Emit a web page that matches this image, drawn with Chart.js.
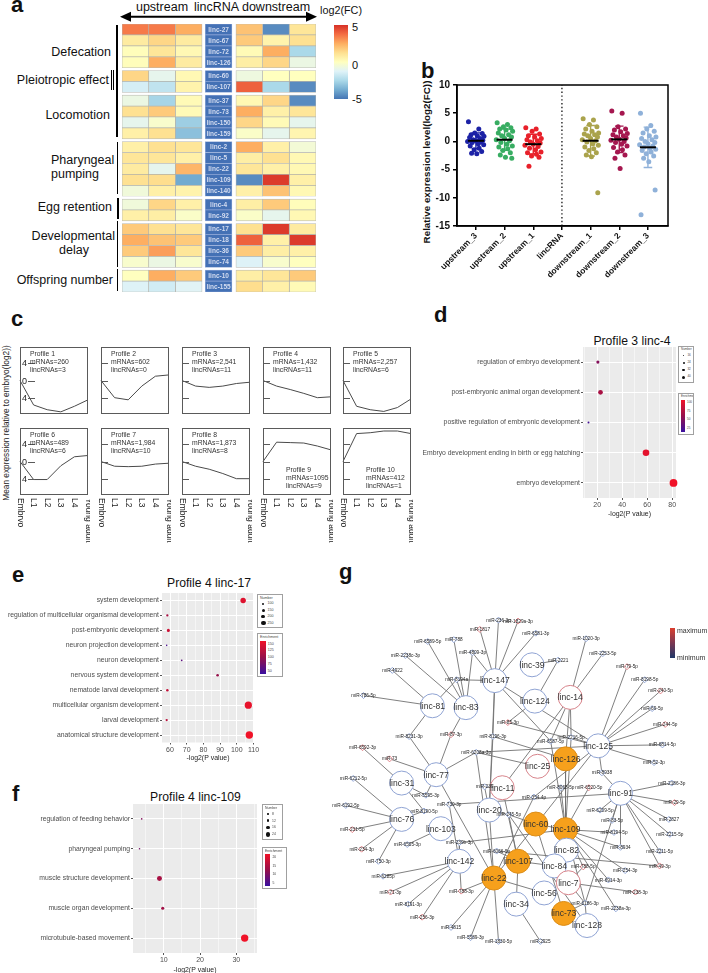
<!DOCTYPE html>
<html lang="en"><head><meta charset="utf-8"><title>lincRNA figure</title>
<script src="https://cdn.jsdelivr.net/npm/chart.js@4.4.1/dist/chart.umd.min.js"></script>
<style>
html,body{margin:0;padding:0;background:#fff;}
#root{position:relative;width:708px;height:973px;overflow:hidden;background:#fff;font-family:"Liberation Sans",Arial,Helvetica,sans-serif;color:#111;}
#root canvas{position:absolute;}
.abs{position:absolute;white-space:nowrap;}
.lg{position:absolute;box-sizing:border-box;border:1px solid #a0a0a0;background:#fff;color:#444;overflow:hidden;white-space:nowrap;}
</style></head>
<body><div id="root"></div>
<script>
// ================= DATA =================
// ---- panel a : heatmap ----
const groupNames = ['Defecation','Pleiotropic effect','Locomotion','Pharyngeal pumping','Egg retention','Developmental delay','Offspring number'];
const groupSizes = [4,2,4,5,2,4,2];
const lincIds = ['linc-27','linc-67','linc-72','linc-126','linc-60','linc-107','linc-37','linc-73','linc-150','linc-159','linc-2','linc-5','linc-22','linc-109','linc-140','linc-4','linc-92','linc-17','linc-18','linc-36','linc-74','linc-10','linc-155'];
const up3   = [3.5,0.8,0.1,0.1, 1.5,-1.5, -0.8,1.2,-1.0,0.6, 0.6,1.0,0.8,1.2,-0.6, -0.6,0.6, 1.8,2.5,1.8,-0.3, 0.0,-1.3];
const up2   = [3.5,1.5,1.0,2.5, -1.0,-2.0, -2.6,1.8,-0.3,1.2, 1.2,1.0,-1.0,1.3,0.6, 1.5,0.7, 1.2,2.0,2.8,-0.8, 2.5,-1.6];
const up1   = [2.5,0.8,0.3,0.8, 0.3,0.5, 0.2,0.2,-2.8,-3.2, 1.0,0.6,2.3,-3.8,0.5, 0.6,-0.2, 1.0,1.8,1.0,-0.3, 1.8,-1.2];
const down1 = [2.0,1.8,0.2,0.7, -0.7,4.0, 0.3,2.5,1.5,-0.2, 2.5,0.7,1.0,-4.5,0.6, 0.7,-0.2, 1.2,4.0,1.8,-1.3, 0.7,1.3];
const down2 = [-4.5,0.5,2.5,1.5, 0.0,-2.5, 1.5,0.6,0.2,-1.0, 0.6,1.2,0.6,4.8,2.0, 1.8,-1.0, 4.8,0.6,0.7,-0.3, 1.0,0.6];
const down3 = [1.0,1.2,-2.5,-0.8, 0.0,-4.5, -4.5,1.0,-1.0,0.4, -0.5,0.3,0.3,0.6,0.3, 0.1,0.3, 0.8,4.8,0.6,0.0, 1.8,0.2];
const fcTicks = [5,0,-5];

// ---- panel b : strip plot ----
const bCats = ['upstream_3','upstream_2','upstream_1','lincRNA','downstream_1','downstream_2','downstream_3'];
const bUp3   = [3.5,2.2,1.5,1.4,1.2,1.0,0.9,0.7,0.5,0.3,0.2,0.1,0.0,-0.1,-0.2,-0.4,-0.6,-0.8,-1.2,-1.5,-1.8,-2.1,-2.2];
const bUp2   = [3.3,3.0,2.6,2.4,2.2,2.0,1.8,1.5,1.2,1.0,0.8,0.5,0.3,0.1,-0.2,-0.5,-0.8,-1.0,-1.3,-1.6,-2.0,-2.4,-2.8,-3.0];
const bUp1   = [2.4,2.2,1.8,1.3,1.0,0.8,0.5,0.3,0.1,-0.1,-0.3,-0.5,-0.7,-0.9,-1.2,-1.5,-1.9,-2.0,-2.3,-2.6,-2.8,-4.4];
const bDown1 = [4.0,3.8,3.0,2.6,2.2,1.8,1.5,1.3,1.2,1.0,0.8,0.5,0.3,0.1,-0.1,-0.4,-0.7,-1.0,-1.3,-1.6,-2.0,-2.4,-2.7,-9.1];
const bDown2 = [5.4,5.0,2.6,2.2,2.0,1.7,1.4,1.2,1.0,0.8,0.6,0.4,0.2,0.0,-0.2,-0.5,-0.8,-1.1,-1.5,-1.9,-2.4,-3.0,-4.8];
const bDown3 = [5.0,2.8,2.2,1.8,1.5,1.0,0.8,0.5,0.3,0.0,-0.2,-0.4,-0.6,-0.8,-1.0,-1.2,-1.4,-1.6,-1.9,-2.2,-2.6,-3.0,-3.6,-8.6,-13.0];

// ---- panel c : expression profiles ----
const stages = ['Embryo','L1','L2','L3','L4','Young adult'];
const profTicks = [4,0,-4];
const profMRNA = ['260','602','2,541','1,432','2,257','489','1,984','1,873','1095','412'];
const profLinc = [3,0,11,11,6,6,10,8,9,1];
const prof1  = [0,-5.7,-6.8,-7.3,-6.0,-4.5];
const prof2  = [0,-4.0,-4.5,-1.3,1.0,1.3];
const prof3  = [0,-1.3,-1.6,-1.3,-0.7,-0.4];
const prof4  = [0,-1.3,-2.1,-3.0,-4.0,-3.8];
const prof5  = [0,-6.0,-6.8,-7.2,-6.3,-4.3];
const prof6  = [0,-4.2,-4.2,-1.0,1.1,1.4];
const prof7  = [0,-1.1,-1.2,-1.1,-0.6,-0.4];
const prof8  = [0,-1.1,-1.8,-2.8,-4.0,-4.0];
const prof9  = [0,4.5,4.4,4.3,3.6,2.7];
const prof10 = [0,6.5,6.7,7.1,7.1,6.5];

// ---- panel d ----
const dTerms  = ['regulation of embryo development','post-embryonic animal organ development','positive regulation of embryonic development','Embryo development ending in birth or egg hatching','embryo development'];
const dLogP   = [20.5,22.6,13,59,81];
const dCount  = [18,26,12,36,42];
const dEnrich = [55,70,30,95,100];
// ---- panel e ----
const eTerms  = ['system development','regulation of multicellular organismal development','post-embryonic development','neuron projection development','neuron development','nervous system development','nematode larval development','multicellular organism development','larval development','anatomical structure development'];
const eLogP   = [103.8,58.4,59,58,67,88.5,58.4,106.9,58,107.5];
const eCount  = [200,110,130,90,95,120,115,250,110,255];
const eEnrich = [140,110,130,60,70,100,125,145,120,150];
// ---- panel f ----
const fTerms  = ['regulation of feeding behavior','pharyngeal pumping','muscle structure development','muscle organ development','microtubule-based movement'];
const fLogP   = [3.9,3.3,8.8,9.7,32.3];
const fCount  = [5,5,16,10,24];
const fEnrich = [10,8,15,14,25];

// ---- panel g : network (layout coordinates) ----
const lincNames = ['linc-147','linc-39','linc-81','linc-83','linc-124','linc-14','linc-125','linc-126','linc-25','linc-77','linc-31','linc-11','linc-91','linc-20','linc-76','linc-103','linc-60','linc-109','linc-82','linc-142','linc-107','linc-84','linc-22','linc-7','linc-56','linc-34','linc-73','linc-128'];
const lincX = [493,533,426,462,536,574,604,569,539,430,393,501,628,487,393,435,537,569,570,455,518,557,492,572,546,516,567,592];
const lincY = [673,656,700,702,695,691,743,757,765,774,783,788,794,812,822,832,827,833,855,867,867,872,885,890,901,913,923,936];
const lincKind = [0,0,0,0,0,1,0,2,1,0, 0,1,0,0,0,0,2,2,0,0, 2,0,2,1,0,0,2,0];
const mirNames = ['miR-236-3p','miR-1829a-3p','miR-1817','miR-6581-3p','miR-6589-5p','miR-788','miR-1020-3p','miR-4809-3p','miR-2253-5p','miR-2238c-3p','miR-2221','miR-79-5p','miR-4922','miR-8194a','miR-8198-5p','miR-786-5p','miR-240-5p','miR-69-5p','miR-244-5p','miR-6814-5p','miR-52-3p','miR-85-3p','miR-8231-3p','miR-87-3p','miR-8196-3p','miR-6587-5p','miR-2216-5p','miR-6592-3p','miR-73','miR-6208a-3p','miR-8938','miR-6212-5p','miR-239','miR-8068-5p','miR-6520-5p','miR-2186-3p','miR-5595-3p','miR-354-4p','miR-29-5p','miR-730-3p','miR-6192-5p','miR-8190-5p','miR-6209-5p','miR-2827','miR-245-5p','miR-83-5p','miR-231-5p','miR-8194-5p','miR-2215-5p','miR-234-3p','miR-6505-3p','miR-239b-3p','miR-8934','miR-6066-5p','miR-2211-5p','miR-750-3p','miR-788-5p','miR-254-3p','miR-49-3p','miR-6285p','miR-6914-3p','miR-71-3p','miR-788-3p','miR-238-3p','miR-8191-3p','miR-6186-3p','miR-2238a-3p','miR-256-3p','miR-4815','miR-5589-3p','miR-1830-5p','miR-2925'];
const mirX = [497,518,477,537,421,449,591,469,609,397, 561,635,383,452,654,352,671,662,676,673, 664,507,401,446,491,553,575,351,380,473, 608,341,482,564,594,683,419,535,686,444, 333,417,606,680,508,619,340,621,681,350, 399,455,628,495,670,368,588,633,670,373, 615,381,457,644,400,590,623,415,446,467, 497,542];
const mirY = [608,609,618,622,631,629,628,643,644,646, 651,658,662,672,672,689,684,703,720,742, 761,718,733,731,733,738,734,745,757,750, 772,778,787,788,788,783,796,798,804,806, 807,813,812,822,817,823,833,836,838,854, 849,847,852,856,856,867,873,877,872,883, 887,900,899,900,913,912,918,927,938,949, 953,953];
const mirKind = [0,1,1,0,0,0,0,0,0,0, 0,1,0,0,0,0,1,0,1,0, 0,1,0,1,0,0,0,1,1,0, 0,0,0,0,1,0,0,0,1,0, 0,0,0,0,0,0,1,0,0,1, 0,0,0,0,0,0,1,0,1,0, 0,1,1,1,0,0,0,1,0,0, 0,0];
const netEdges = [
 ['miR-6589-5p','linc-83'],['miR-788','linc-83'],['miR-4809-3p','linc-83'],['miR-4809-3p','linc-147'],['miR-8194a','linc-147'],['miR-8194a','linc-81'],['miR-8194a','linc-83'],['miR-2238c-3p','linc-83'],['miR-4922','linc-81'],
 ['miR-1817','linc-147'],['miR-236-3p','linc-147'],['miR-1829a-3p','linc-147'],['miR-6581-3p','linc-147'],['miR-2221','linc-39'],['miR-2221','linc-124'],['miR-1020-3p','linc-14'],['miR-2253-5p','linc-14'],
 ['miR-79-5p','linc-125'],['miR-8198-5p','linc-125'],['miR-240-5p','linc-125'],['miR-69-5p','linc-125'],['miR-244-5p','linc-125'],['miR-6814-5p','linc-125'],['miR-52-3p','linc-125'],['miR-786-5p','linc-81'],
 ['linc-81','miR-8231-3p'],['miR-8231-3p','linc-77'],['linc-83','miR-87-3p'],['miR-87-3p','linc-77'],['miR-8196-3p','linc-147'],['miR-8196-3p','linc-126'],['miR-85-3p','linc-124'],['miR-85-3p','linc-125'],
 ['linc-147','linc-125'],['linc-147','miR-6587-5p'],['miR-6587-5p','linc-14'],['miR-6587-5p','linc-109'],['miR-2216-5p','linc-14'],['miR-2216-5p','linc-109'],['miR-2216-5p','linc-125'],['linc-14','linc-126'],['linc-14','linc-11'],
 ['miR-6592-3p','linc-31'],['miR-73','linc-77'],['miR-6208a-3p','linc-77'],['miR-6208a-3p','linc-125'],['miR-6208a-3p','linc-25'],['miR-6208a-3p','linc-22'],['miR-6212-5p','linc-76'],['miR-239','linc-11'],
 ['miR-8938','linc-125'],['miR-8938','linc-91'],['miR-8068-5p','linc-109'],['miR-6520-5p','linc-109'],['miR-2186-3p','linc-91'],['miR-5595-3p','linc-31'],['miR-5595-3p','linc-77'],['linc-125','miR-354-4p'],['miR-354-4p','linc-22'],
 ['miR-29-5p','linc-91'],['miR-730-3p','linc-91'],['miR-6192-5p','linc-76'],['miR-8190-5p','linc-31'],['miR-8190-5p','linc-76'],['miR-6209-5p','linc-91'],['miR-2827','linc-91'],
 ['miR-245-5p','linc-60'],['miR-245-5p','linc-20'],['miR-245-5p','linc-107'],['miR-245-5p','linc-128'],['miR-83-5p','linc-91'],['miR-231-5p','linc-76'],['miR-8194-5p','linc-109'],['miR-2215-5p','linc-91'],['miR-234-3p','linc-76'],
 ['miR-6505-3p','linc-103'],['miR-239b-3p','linc-109'],['miR-239b-3p','linc-142'],['miR-8934','linc-91'],['miR-8934','linc-109'],['miR-6066-5p','linc-107'],['miR-6066-5p','miR-49-3p'],['miR-2211-5p','linc-91'],['miR-750-3p','linc-76'],
 ['miR-788-5p','linc-109'],['miR-788-5p','linc-7'],['miR-254-3p','linc-109'],['miR-49-3p','linc-91'],['miR-6285p','linc-142'],['miR-6914-3p','linc-109'],['miR-71-3p','linc-142'],['miR-788-3p','linc-142'],['miR-788-3p','linc-22'],
 ['miR-238-3p','linc-7'],['miR-8191-3p','linc-142'],['miR-6186-3p','linc-109'],['miR-6186-3p','linc-7'],['miR-6186-3p','linc-91'],['miR-6186-3p','linc-73'],['miR-6186-3p','linc-128'],['miR-2238a-3p','linc-109'],['miR-256-3p','linc-142'],
 ['miR-4815','linc-22'],['miR-5589-3p','linc-22'],['miR-1830-5p','linc-22'],['miR-2925','linc-34'],['linc-22','linc-56'],['linc-77','linc-22'],['linc-107','linc-34'],['linc-107','linc-84'],['linc-60','linc-109'],['linc-126','linc-109'],
 ['linc-20','linc-147'],['linc-20','linc-22'],['linc-11','linc-107'],['linc-142','miR-730-3p'],['linc-125','linc-22'],['linc-60','linc-73'],['miR-8196-3p','linc-20'],['miR-239','linc-20']
];

// ================= SETUP =================
const FONT = '"Liberation Sans", Arial, Helvetica, sans-serif';
Chart.defaults.font.family = FONT;
Chart.defaults.color = '#222';
Chart.defaults.animation = false;
Chart.defaults.responsive = false;
Chart.defaults.maintainAspectRatio = false;
Chart.defaults.devicePixelRatio = 1;
Chart.defaults.events = [];
Chart.defaults.plugins.legend.display = false;
Chart.defaults.plugins.tooltip.enabled = false;

const root = document.getElementById('root');
function mkCanvas(l,t,w,h){
  const c=document.createElement('canvas'); c.width=w; c.height=h;
  c.style.left=l+'px'; c.style.top=t+'px'; c.style.width=w+'px'; c.style.height=h+'px';
  root.appendChild(c); return c;
}
function txt(s,x,base,fs,align,extra){
  const d=document.createElement('div'); d.className='abs'; d.textContent=s;
  d.style.left=x+'px'; d.style.top=(base-0.8465*fs)+'px'; d.style.fontSize=fs+'px'; d.style.lineHeight=fs+'px';
  if(align==='center') d.style.transform='translateX(-50%)';
  else if(align==='right') d.style.transform='translateX(-100%)';
  if(extra) Object.assign(d.style,extra);
  root.appendChild(d); return d;
}
function txtRot(s,cx,cy,fs,extra){
  const d=document.createElement('div'); d.className='abs'; d.textContent=s;
  d.style.left=cx+'px'; d.style.top=cy+'px'; d.style.fontSize=fs+'px'; d.style.lineHeight=fs+'px';
  d.style.transform='translate(-50%,-50%) rotate(-90deg)';
  if(extra) Object.assign(d.style,extra);
  root.appendChild(d); return d;
}
function rect(l,t,w,h,bg){
  const d=document.createElement('div'); d.className='abs';
  Object.assign(d.style,{left:l+'px',top:t+'px',width:w+'px',height:h+'px',background:bg});
  root.appendChild(d); return d;
}
const fcStops=[[-5,[69,117,180]],[-3.75,[116,173,209]],[-2.5,[171,217,233]],[-1.25,[224,243,248]],[0,[255,255,191]],[1.25,[254,224,144]],[2.5,[253,174,97]],[3.75,[244,109,67]],[5,[215,48,39]]];
function fcColor(v){
  v=Math.max(-5,Math.min(5,v));
  for(let i=0;i<fcStops.length-1;i++){
    const [a,ca]=fcStops[i],[b,cb]=fcStops[i+1];
    if(v<=b){const t=(v-a)/(b-a);return 'rgb('+ca.map((c,j)=>Math.round(c+(cb[j]-c)*t)).join(',')+')';}
  }
  return 'rgb(215,48,39)';
}
const enrStops=[[0,[58,16,160]],[0.5,[150,16,74]],[1,[240,18,40]]];
function enrichColor(t){
  t=Math.max(0,Math.min(1,t));
  const [a,ca]=t<=0.5?enrStops[0]:enrStops[1];
  const [b,cb]=t<=0.5?enrStops[1]:enrStops[2];
  const u=(t-a)/(b-a);
  return 'rgb('+ca.map((c,j)=>Math.round(c+(cb[j]-c)*u)).join(',')+')';
}
function mean(a){return a.reduce((s,v)=>s+v,0)/a.length;}
function stdev(a){const m=mean(a);return Math.sqrt(a.reduce((s,v)=>s+(v-m)*(v-m),0)/(a.length-1));}

// ================= PANEL A =================
txt('a',11,13,22,null,{fontWeight:'bold'});
txt('upstream',162,11.5,12.5,'center');
txt('lincRNA',216.5,11.5,12.5,'center');
txt('downstream',276,11.5,12.5,'center');
root.insertAdjacentHTML('beforeend','<svg class="abs" style="left:120px;top:11px" width="197" height="12" viewBox="0 0 197 12"><line x1="9" y1="5.7" x2="188" y2="5.7" stroke="#000" stroke-width="2"/><polygon points="0,5.7 11,0.7 11,10.7" fill="#000"/><polygon points="197,5.7 186,0.7 186,10.7" fill="#000"/></svg>');
txt('log2(FC)',320,14,10.8);
rect(334,25,14,74,'linear-gradient(to bottom,#d73027 0%,#f46d43 12.5%,#fdae61 25%,#fee090 37.5%,#ffffbf 50%,#e0f3f8 62.5%,#abd9e9 75%,#74add1 87.5%,#4575b4 100%)');
const fcTickY=[31,69,103];
fcTicks.forEach((v,i)=>txt(String(v),352,fcTickY[i],11));
// group labels
txt(groupNames[0],111,56.5,12.5,'right');
txt(groupNames[1],109,85,12.5,'right');
txt(groupNames[2],110,119.5,12.5,'right');
txt('Pharyngeal',51,164.5,12.5);
txt('pumping',51,178.5,12.5);
txt(groupNames[4],112,212,12.5,'right');
txt('Developmental',115,240.5,12.5,'right');
txt('delay',74,255,12.5,'center');
txt(groupNames[6],113,284.5,12.5,'right');
rect(116,25,1.5,112,'#000');
rect(110.8,70,1.2,20,'#000');
rect(113.3,70,1.2,20,'#000');
rect(116.5,142,1.5,52,'#000');
rect(117,198,1.5,21,'#000');
rect(116.5,221,1.5,46,'#000');
rect(116.5,269,1.5,22,'#000');

(function(){
  const c=mkCanvas(122,24,194,268);
  const rowPos=[]; let k=0;
  groupSizes.forEach((n,g)=>{for(let r=0;r<n;r++){rowPos.push(k+g*0.25+0.5);k++;}});
  const cols=[up3,up2,up1,null,down1,down2,down3];
  const colSpan=[[0,1],[1,2],[2,3],[3.12,4.12],[4.27,5.27],[5.27,6.27],[6.27,7.27]];
  const datasets=cols.map((vals,ci)=>({
    data:lincIds.map((id,i)=>({x:colSpan[ci].slice(),y:rowPos[i]})),
    backgroundColor: vals? vals.map(fcColor) : '#4471b5',
    borderColor: vals? 'rgba(168,168,160,0.8)' : 'rgba(140,165,215,0.9)',
    borderWidth:0.7, borderSkipped:false, barPercentage:1, categoryPercentage:1, grouped:false
  }));
  const lincLabels={id:'lincLabels',afterDatasetsDraw(chart){
    const ctx=chart.ctx, meta=chart.getDatasetMeta(3);
    ctx.save(); ctx.font='bold 6.5px '+FONT; ctx.fillStyle='#d3dcf0'; ctx.textAlign='center'; ctx.textBaseline='middle';
    meta.data.forEach((el,i)=>ctx.fillText(lincIds[i],(el.x+el.base)/2,el.y+0.5));
    ctx.restore();
  }};
  new Chart(c,{type:'bar',data:{datasets},options:{indexAxis:'y',layout:{padding:0},
    scales:{x:{type:'linear',min:0,max:7.27,display:false},
            y:{type:'linear',min:0,max:24.5,reverse:true,display:false,offset:false,afterBuildTicks:s=>{s.ticks=[{value:0},{value:24.5}];}}}},
    plugins:[lincLabels]});
})();

// ================= PANEL B =================
txt('b',421,79,22,null,{fontWeight:'bold'});
txtRot('Relative expression level(log2(FC))',427,162,9.8,{fontWeight:'bold',color:'#111'});
(function(){
  const c=mkCanvas(417,76,258,210);
  const series=[bUp3,bUp2,bUp1,null,bDown1,bDown2,bDown3];
  const colors=['#1c22a6','#38ad62','#e8202a',null,'#aaa34c','#a5174f','#8fb1d9'];
  const jitter=[-0.26,0.1,-0.04,0.22,-0.17,0.05,0.28,-0.22,0.14,-0.1,0.24,0.0,-0.29,0.17,-0.13,0.08,0.27,-0.2,0.11,-0.06,0.2,-0.15,0.03,0.25,-0.24];
  const ds=[];
  series.forEach((vals,ci)=>{
    if(!vals) return;
    const col=colors[ci], m=mean(vals), sd=stdev(vals);
    ds.push({type:'scatter',data:vals.map((v,i)=>({x:ci+jitter[i%jitter.length],y:v})),pointRadius:2.5,pointBackgroundColor:col,pointBorderWidth:0,order:2});
    ds.push({type:'line',data:[{x:ci,y:m-sd},{x:ci,y:m+sd},{x:ci,y:null},{x:ci-0.15,y:m+sd},{x:ci+0.15,y:m+sd},{x:ci,y:null},{x:ci-0.15,y:m-sd},{x:ci+0.15,y:m-sd}],borderColor:col,borderWidth:1.4,pointRadius:0,spanGaps:false,order:1});
    ds.push({type:'line',data:[{x:ci-0.28,y:m},{x:ci+0.28,y:m}],borderColor:'#000',borderWidth:2,pointRadius:0,order:0});
  });
  ds.push({type:'line',data:[{x:3,y:-15},{x:3,y:10}],borderColor:'#222',borderWidth:1.4,borderDash:[1.4,2.4],pointRadius:0,order:3});
  const frame={id:'frame',afterDraw(chart){const {ctx,chartArea:a}=chart;ctx.save();ctx.strokeStyle='#000';ctx.lineWidth=1.5;ctx.strokeRect(a.left,a.top,a.right-a.left,a.bottom-a.top);ctx.restore();}};
  new Chart(c,{type:'scatter',data:{datasets:ds},options:{
    layout:{padding:{top:9,right:7,left:0,bottom:0}},
    scales:{
      x:{type:'linear',min:-0.66,max:6.7,
         afterBuildTicks:s=>{s.ticks=bCats.map((n,i)=>({value:i}));},
         ticks:{callback:v=>bCats[v],autoSkip:false,minRotation:45,maxRotation:45,font:{size:8.5,weight:'bold'},color:'#111',padding:1},
         grid:{display:true,drawOnChartArea:false,drawTicks:true,tickLength:4,color:'#000',lineWidth:1.5},
         border:{display:true,color:'#000',width:1.5},
         afterFit:s=>{s.height=60;}},
      y:{min:-15,max:10,ticks:{stepSize:5,font:{size:10,weight:'bold'},color:'#111',padding:3},
         grid:{display:true,drawOnChartArea:false,drawTicks:true,tickLength:4,color:'#000',lineWidth:1.5},
         border:{display:true,color:'#000',width:1.5},
         afterFit:s=>{s.width=40;}}
    }},plugins:[frame]});
})();

// ================= PANEL C =================
txt('c',11,327,22,null,{fontWeight:'bold'});
txtRot('Mean expression relative to embryo(log2))',6,423,8.3,{color:'#222'});
const profVals=[prof1,prof2,prof3,prof4,prof5,prof6,prof7,prof8,prof9,prof10];
const profileDeco={id:'profileDeco',afterDraw(chart,args,o){
  const {ctx,chartArea:a,scales:{x,y}}=chart;
  ctx.save();
  ctx.strokeStyle='#5a5a5a'; ctx.lineWidth=1;
  ctx.strokeRect(a.left+0.5,a.top+0.5,a.right-a.left-1,a.bottom-a.top-1);
  ctx.font='9px '+FONT; ctx.fillStyle='#222'; ctx.textAlign='center'; ctx.textBaseline='middle';
  profTicks.forEach(v=>{
    const py=Math.round(y.getPixelForValue(v))+0.5;
    const x0=o.first?a.left+8:a.left;
    ctx.beginPath(); ctx.moveTo(x0,py); ctx.lineTo(x0+7,py); ctx.stroke();
    if(o.first) ctx.fillText(String(Math.abs(v)),a.left+4.5,py);
  });
  if(o.xLabels){
    ctx.font='8.5px '+FONT; ctx.textAlign='left';
    stages.forEach((s,i)=>{const px=x.getPixelForValue(i);ctx.save();ctx.translate(px,a.bottom+3);ctx.rotate(Math.PI/2);ctx.fillText(s,0,0);ctx.restore();});
  }
  ctx.font='6.8px '+FONT; ctx.fillStyle='#333'; ctx.textAlign='left';
  const lines=['Profile '+(o.idx+1),'mRNAs='+profMRNA[o.idx],'lincRNAs='+profLinc[o.idx]];
  lines.forEach((l,k)=>{
    if(o.bottomText) ctx.fillText(l,a.left+23,a.bottom-25+k*8);
    else ctx.fillText(l,a.left+10,a.top+7.5+k*8);
  });
  ctx.restore();
}};
const profColLeft=[20,101,182,263,343], profRowTop=[347,428];
profVals.forEach((vals,idx)=>{
  const col=idx%5,row=Math.floor(idx/5);
  const bx=profColLeft[col],by=profRowTop[row],bw=68,bh=67;
  const extra=row===1?52:2;
  const c=mkCanvas(bx-2,by-2,bw+4,bh+2+extra);
  new Chart(c,{type:'line',data:{datasets:[{data:vals.map((v,i)=>({x:i,y:v})),borderColor:'#4a4a4a',borderWidth:1,pointRadius:0,tension:0,clip:false}]},
    options:{layout:{padding:{left:2,top:2,right:2,bottom:extra}},
      scales:{x:{type:'linear',min:0,max:5,display:false},y:{min:-7.8,max:7.8,display:false}},
      plugins:{profileDeco:{idx,first:col===0,bottomText:idx>=8,xLabels:row===1}}},
    plugins:[profileDeco]});
});

// ================= PANELS D, E, F =================
const panelBg={id:'panelBg',beforeDraw(chart){const {ctx,chartArea:a}=chart;ctx.save();ctx.fillStyle='#ebebeb';ctx.fillRect(a.left,a.top,a.right-a.left,a.bottom-a.top);ctx.restore();}};
function isMajor(v,m){const q=v/m;return Math.abs(q-Math.round(q))<1e-6;}
function goChart(o){
  const c=mkCanvas(o.left,o.top,o.width,o.height);
  const nMin=Math.min(...o.count),nMax=Math.max(...o.count);
  const radius=n=>o.rMin+(n-nMin)/(nMax-nMin)*(o.rMax-o.rMin);
  new Chart(c,{type:'scatter',
    data:{datasets:[{data:o.terms.map((t,i)=>({x:o.logp[i],y:t})),pointRadius:o.count.map(radius),
      pointBackgroundColor:o.enrich.map(e=>enrichColor((e-o.eMin)/(o.eMax-o.eMin))),pointBorderWidth:0,clip:false}]},
    options:{layout:{padding:{top:6,right:o.padRight,left:0,bottom:0}},
      scales:{
        x:{type:'linear',min:o.xMin,max:o.xMax,
           ticks:{stepSize:o.step,includeBounds:false,autoSkip:false,maxRotation:0,font:{size:7},color:'#4d4d4d',padding:1,callback:v=>isMajor(v,o.major)?String(v):''},
           grid:{color:'#ffffff',lineWidth:ctx=>(ctx.tick&&isMajor(ctx.tick.value,o.major))?1:0.5,drawTicks:true,tickLength:2,
                 tickColor:ctx=>(ctx.tick&&isMajor(ctx.tick.value,o.major))?'#555':'rgba(0,0,0,0)'},
           border:{display:false},
           title:{display:true,text:'-log2(P value)',font:{size:6.9},color:'#222',padding:0},
           afterFit:s=>{s.height=o.xAxisH;}},
        y:{type:'category',labels:o.terms,offset:true,
           grid:{offset:false,color:'#ffffff',lineWidth:1,drawTicks:true,tickLength:2,tickColor:'#555'},
           ticks:{font:{size:6.8},color:'#4d4d4d',padding:1,autoSkip:false},
           border:{display:false},
           afterFit:s=>{s.width=o.yAxisW;}}
      }},
    plugins:[panelBg]});
}
function numLegend(l,t,w,h,labels,radii,fs){
  const d=document.createElement('div'); d.className='lg';
  Object.assign(d.style,{left:l+'px',top:t+'px',width:w+'px',height:h+'px',fontSize:fs+'px',lineHeight:(fs*1.25)+'px',padding:'1px 1px 0 2px'});
  const rowH=(h-fs*1.25-4)/labels.length;
  let html='<div>Number</div>';
  labels.forEach((lab,i)=>{const r=radii[i];
    html+='<div style="height:'+rowH+'px;display:flex;align-items:center;"><span style="display:inline-flex;width:'+(fs*1.8)+'px;justify-content:center;align-items:center;"><span style="display:inline-block;width:'+(2*r)+'px;height:'+(2*r)+'px;border-radius:50%;background:#111;"></span></span><span style="margin-left:1px">'+lab+'</span></div>';});
  d.innerHTML=html; root.appendChild(d);
}
function enrLegend(l,t,w,h,labels,fs){
  const d=document.createElement('div'); d.className='lg';
  Object.assign(d.style,{left:l+'px',top:t+'px',width:w+'px',height:h+'px',fontSize:fs+'px',lineHeight:(fs*1.25)+'px',padding:'1px 1px 0 2px'});
  const barH=h-fs*1.25-6;
  let html='<div>Enrichment</div><div style="display:flex;height:'+barH+'px;margin-top:1px;"><div style="width:'+(fs*1.6)+'px;height:100%;background:linear-gradient(to bottom,#f01228,#96104a 50%,#3a10a0);"></div><div style="display:flex;flex-direction:column;justify-content:space-between;margin-left:2px;padding:1px 0;">';
  labels.forEach(lab=>{html+='<span>'+lab+'</span>';});
  html+='</div></div>';
  d.innerHTML=html; root.appendChild(d);
}

// d
txt('d',434,323,22,null,{fontWeight:'bold'});
txt('Profile 3 linc-4',632,345,12.2,'center');
goChart({left:415,top:341,width:265,height:177,yAxisW:168,xAxisH:20,padRight:4,terms:dTerms,logp:dLogP,count:dCount,enrich:dEnrich,
  xMin:8.6,xMax:83,step:10,major:20,rMin:1,rMax:3.9,eMin:25,eMax:100});
numLegend(678,346,16,37,['16','24','32','40'],[0.6,1,1.4,1.8],3);
enrLegend(678,393,16,42,['100','75','50','25'],3);

// e
txt('e',12,583,22,null,{fontWeight:'bold'});
txt('Profile 4 linc-17',209,587,12.2,'center');
goChart({left:0,top:587,width:262,height:175,yAxisW:162,xAxisH:19.5,padRight:8,terms:eTerms,logp:eLogP,count:eCount,enrich:eEnrich,
  xMin:55.2,xMax:110.3,step:5,major:10,rMin:0.8,rMax:3.7,eMin:50,eMax:150});
numLegend(257,594,26,34,['100','150','200','250'],[1.1,1.5,1.9,2.3],3.6);
enrLegend(257,633,26,44,['150','125','100','75','50'],3.6);

// f
txt('f',12,802,22,null,{fontWeight:'bold'});
txt('Profile 4 linc-109',195.5,801,12.2,'center');
goChart({left:0,top:798,width:261,height:176,yAxisW:133,xAxisH:21,padRight:4,terms:fTerms,logp:fLogP,count:fCount,enrich:fEnrich,
  xMin:1.5,xMax:35.7,step:5,major:10,rMin:0.8,rMax:3.7,eMin:0,eMax:25});
numLegend(262,804,21,36,['8','12','16','24'],[0.8,1.3,1.7,2.2],3.4);
enrLegend(262,847,25,42,['20','15','10','5'],3.4);

// ================= PANEL G =================
txt('g',339,580,22,null,{fontWeight:'bold'});
rect(670,628,4.5,30,'linear-gradient(to bottom,#db3f2e,#7b3752 50%,#1f3768)');
txt('maximum',677,632.5,7,null,{color:'#333'});
txt('minimum',677,659.5,7,null,{color:'#333'});
(function(){
  const L=330,T=595,W=378,H=378;
  const c=mkCanvas(L,T,W,H);
  const pos={};
  lincNames.forEach((n,i)=>{pos[n]={x:lincX[i],y:lincY[i]};});
  mirNames.forEach((n,i)=>{pos[n]={x:mirX[i],y:mirY[i]};});
  const edgeData=[];
  netEdges.forEach(([a,b])=>{if(!pos[a]||!pos[b])return;edgeData.push({x:pos[a].x,y:pos[a].y},{x:pos[b].x,y:pos[b].y},{x:pos[b].x,y:null});});
  const labelsPlugin={id:'netLabels',afterDatasetsDraw(chart){
    const ctx=chart.ctx; ctx.save(); ctx.textAlign='center'; ctx.textBaseline='middle';
    ctx.font='4.7px '+FONT; ctx.fillStyle='#222';
    chart.getDatasetMeta(1).data.forEach((el,i)=>ctx.fillText(mirNames[i],el.x,el.y+0.3));
    ctx.font='8.5px '+FONT; ctx.fillStyle='#333';
    chart.getDatasetMeta(0).data.forEach((el,i)=>ctx.fillText(lincNames[i],el.x,el.y+0.5));
    ctx.restore();
  }};
  new Chart(c,{type:'scatter',data:{datasets:[
      {data:lincNames.map((n,i)=>({x:lincX[i],y:lincY[i]})),pointRadius:12,
       pointBackgroundColor:lincKind.map(k=>k===2?'#f6a01c':'#ffffff'),
       pointBorderColor:lincKind.map(k=>k===0?'#8fa3d3':k===1?'#d7848b':'#dc8d18'),pointBorderWidth:1,clip:false,order:0},
      {data:mirNames.map((n,i)=>({x:mirX[i],y:mirY[i]})),pointStyle:'rectRot',pointRadius:3,pointBackgroundColor:'#ffffff',
       pointBorderColor:mirKind.map(k=>k?'#df777d':'#8aa0d4'),pointBorderWidth:0.9,clip:false,order:1},
      {type:'line',data:edgeData,borderColor:'#727272',borderWidth:0.9,pointRadius:0,spanGaps:false,clip:false,order:2}
    ]},
    options:{layout:{padding:0},scales:{x:{type:'linear',min:L,max:L+W,display:false},y:{type:'linear',min:T,max:T+H,reverse:true,display:false}}},
    plugins:[labelsPlugin]});
})();
</script></body></html>
